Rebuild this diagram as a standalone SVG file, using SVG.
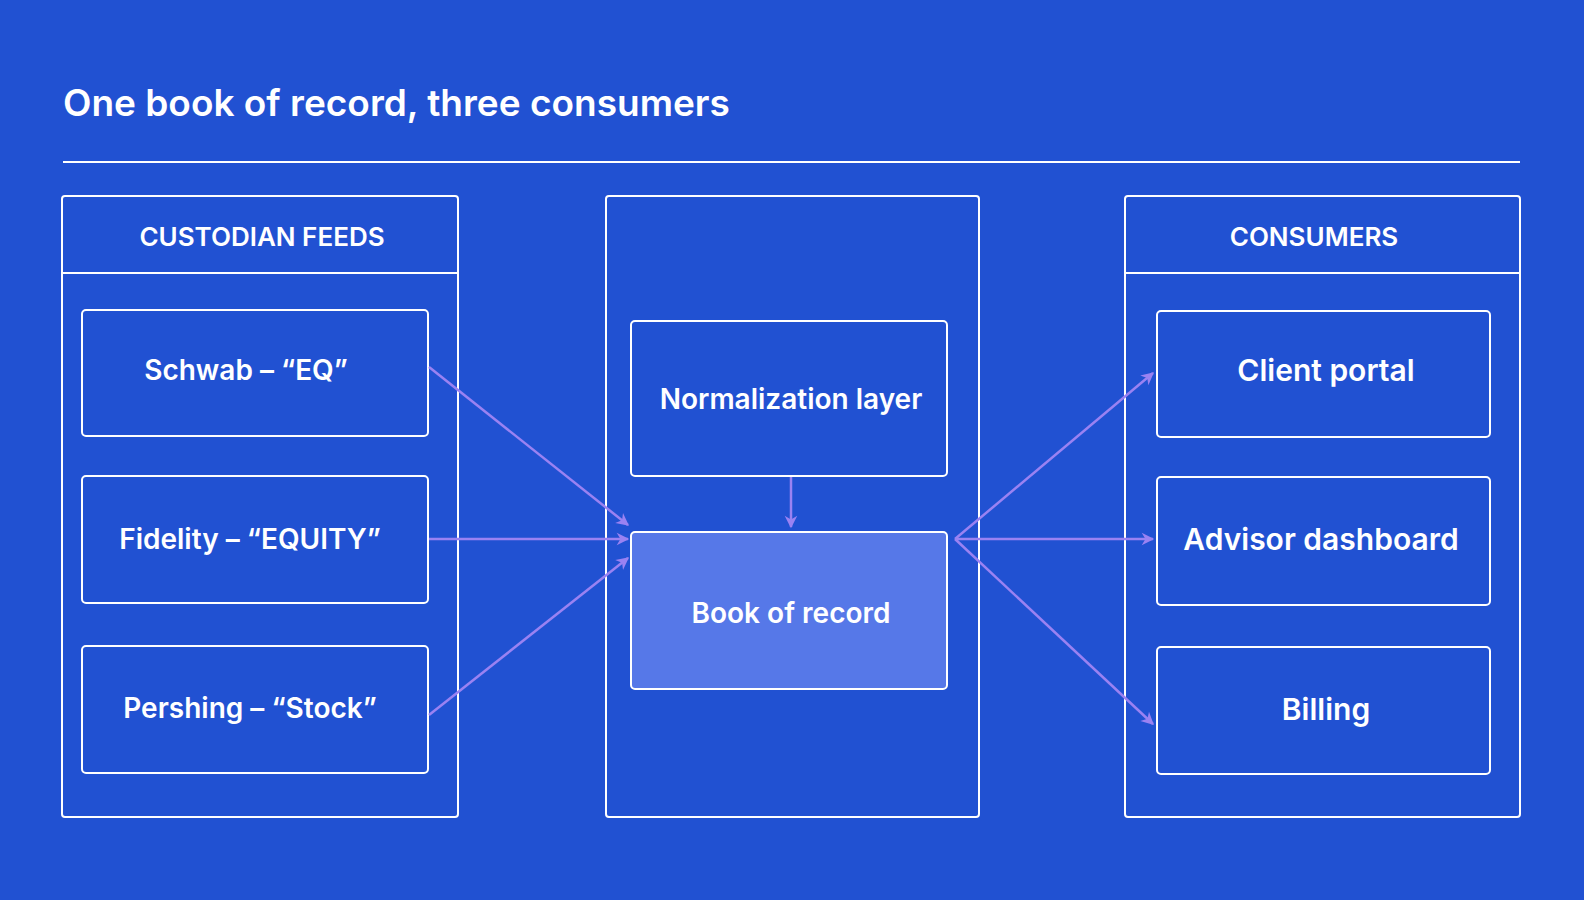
<svg xmlns="http://www.w3.org/2000/svg" width="1584" height="900" viewBox="0 0 1584 900">
<style>
.p{fill:none;stroke:#fff;stroke-width:2}
.b{fill:none;stroke:#fff;stroke-width:2}
.t{font-family:Inter,"Open Sans",sans-serif;font-weight:600;fill:#fff;text-anchor:middle}
.c{stroke:#9a82f2;stroke-width:2.5;fill:none;marker-end:url(#a)}
</style>
<defs><marker id="a" viewBox="0 0 10 10" refX="9" refY="5" markerWidth="7" markerHeight="7" orient="auto" markerUnits="userSpaceOnUse" style="overflow:visible"><path d="M0,0 L10,5 L0,10 L3,5 Z" fill="#9a82f2" transform="scale(1.8) translate(-4,-2.2)"/></marker></defs>
<rect width="1584" height="900" fill="#2151d2"/>
<text x="63" y="116" font-family="Inter,'Open Sans',sans-serif" font-weight="600" font-size="37" fill="#fff">One book of record, three consumers</text>
<line x1="63" y1="162" x2="1520" y2="162" stroke="#fff" stroke-width="2"/>
<g id="feeds"><rect class="p" x="62" y="196" width="396" height="621" rx="3"/><line class="p" x1="62" y1="273" x2="458" y2="273"/><text class="t" x="262" y="246" font-size="26">CUSTODIAN FEEDS</text></g>
<g id="schwab"><rect class="b" x="82" y="310" width="346" height="126" rx="4"/><text class="t" x="246" y="380" font-size="28">Schwab – “EQ”</text></g>
<g id="fidelity"><rect class="b" x="82" y="476" width="346" height="127" rx="4"/><text class="t" x="250" y="549" font-size="28">Fidelity – “EQUITY”</text></g>
<g id="pershing"><rect class="b" x="82" y="646" width="346" height="127" rx="4"/><text class="t" x="250" y="718" font-size="28">Pershing – “Stock”</text></g>
<g id="middle"><rect class="p" x="606" y="196" width="373" height="621" rx="3"/></g>
<g id="norm"><rect class="b" x="631" y="321" width="316" height="155" rx="4"/><text class="t" x="791" y="409" font-size="28">Normalization layer</text></g>
<g id="book"><rect x="631" y="532" width="316" height="157" rx="4" fill="#5678e8" stroke="#fff" stroke-width="2"/><text class="t" x="791" y="623" font-size="28">Book of record</text></g>
<g id="consumers"><rect class="p" x="1125" y="196" width="395" height="621" rx="3"/><line class="p" x1="1125" y1="273" x2="1520" y2="273"/><text class="t" x="1314" y="246" font-size="26">CONSUMERS</text></g>
<g id="portal"><rect class="b" x="1157" y="311" width="333" height="126" rx="4"/><text class="t" x="1326" y="381" font-size="30">Client portal</text></g>
<g id="advisor"><rect class="b" x="1157" y="477" width="333" height="128" rx="4"/><text class="t" x="1321" y="550" font-size="30">Advisor dashboard</text></g>
<g id="billing"><rect class="b" x="1157" y="647" width="333" height="127" rx="4"/><text class="t" x="1326" y="720" font-size="30">Billing</text></g>
<g id="connectors">
<line class="c" x1="429" y1="367" x2="628" y2="525"/>
<line class="c" x1="429" y1="539" x2="628" y2="539"/>
<line class="c" x1="429" y1="715" x2="628" y2="558"/>
<line class="c" x1="791" y1="477" x2="791" y2="527"/>
<line class="c" x1="955" y1="539" x2="1153" y2="373"/>
<line class="c" x1="955" y1="539" x2="1153" y2="539"/>
<line class="c" x1="955" y1="539" x2="1153" y2="724"/>
</g>
</svg>
